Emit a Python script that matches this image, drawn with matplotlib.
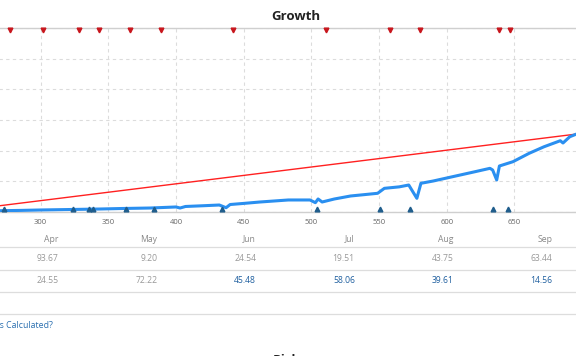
import matplotlib
matplotlib.use("Agg")
import matplotlib.pyplot as plt

plt.rcParams['font.family'] = ['Open Sans', 'DejaVu Sans']

# growth curve (trade number vs balance units)
trade_x = [262, 270, 285, 300, 320, 344, 360, 381, 400, 403, 407, 420, 432, 437,
           440, 450, 462, 483, 499, 503, 505, 508, 517, 529, 540, 549, 554, 565,
           572, 578, 581, 590, 599, 610, 621, 632, 634, 637, 639, 649, 661, 672,
           684, 686, 691, 696]
balance = [18, 21, 26, 33, 40, 49, 57, 65, 82, 65, 90, 102, 114, 70,
           122, 140, 163, 196, 196, 152, 212, 163, 212, 261, 285, 305, 386, 410,
           440, 223, 468, 505, 549, 603, 657, 712, 685, 522, 750, 820, 957, 1064,
           1162, 1125, 1227, 1271]

# linear trend
trend_x = [262, 696]
trend_y = [81, 1271]

# deposit / withdrawal markers
withdraw_x = [277, 302, 328, 343, 366, 389, 442, 511, 558, 580, 639, 647]
deposit_x = [273, 324, 336, 339, 363, 384, 434, 504, 551, 573, 634, 645]

xticks = [300, 350, 400, 450, 500, 550, 600, 650]

# monthly table
months = ['Apr', 'May', 'Jun', 'Jul', 'Aug', 'Sep']
row1 = ['93.67', '9.20', '24.54', '19.51', '43.75', '63.44']
row2 = ['24.55', '72.22', '45.48', '58.06', '39.61', '14.56']
row2_highlight = [False, False, True, True, True, True]

W, H = 576, 356
fig = plt.figure(figsize=(W / 100, H / 100), dpi=100)

# chart axes, left part cropped off like the screenshot
left_px, right_px, top_px, bot_px = -60, 578, 28, 212
ax = fig.add_axes([left_px / W, (H - bot_px) / H,
                   (right_px - left_px) / W, (bot_px - top_px) / H])
px_per_unit = 1.3531
ax.set_xlim(300 + (left_px - 40.7) / px_per_unit, 300 + (right_px - 40.7) / px_per_unit)
ax.set_ylim(0, 3000)

ax.plot(trend_x, trend_y, color='#ff2020', lw=1.0, zorder=3)
ax.plot(trade_x, balance, color='#2a8ff0', lw=2.2, zorder=4,
        solid_joinstyle='round')

tr = ax.get_xaxis_transform()
ax.plot(withdraw_x, [0.988] * len(withdraw_x), 'v', color='#c8161d',
        ms=3.4, transform=tr, clip_on=False, zorder=5)
ax.plot(deposit_x, [0.014] * len(deposit_x), '^', color='#1f5d8c',
        ms=3.4, transform=tr, clip_on=False, zorder=5)

ax.set_xticks(xticks)
ax.set_yticks(range(0, 3001, 500))
ax.set_yticklabels([])
ax.grid(True, color='#dcdcdc', ls=(0, (3, 3)), lw=0.8)
ax.tick_params(axis='x', length=0, pad=5, labelsize=5.5, labelcolor='#666666')
ax.tick_params(axis='y', length=0)
for s in ['left', 'right']:
    ax.spines[s].set_visible(False)
for s in ['top', 'bottom']:
    ax.spines[s].set_color('#cfcfcf')
    ax.spines[s].set_linewidth(1.0)

# overlay in pixel coordinates for the page text
ov = fig.add_axes([0, 0, 1, 1], facecolor='none')
ov.set_xlim(0, W)
ov.set_ylim(H, 0)
ov.axis('off')

ov.text(296, 16, 'Growth', ha='center', va='center', fontsize=9.5,
        fontweight='bold', color='#222222')

col_right = [58.7 + i * 98.7 for i in range(len(months))]
for i, m in enumerate(months):
    ov.text(col_right[i], 239, m, ha='right', va='center', fontsize=6.2, color='#888888')
    ov.text(col_right[i], 258.7, row1[i], ha='right', va='center', fontsize=6.2,
            color='#999999')
    ov.text(col_right[i], 280.7, row2[i], ha='right', va='center', fontsize=6.2,
            color='#1f5f9f' if row2_highlight[i] else '#999999')

for y in [247.3, 269.7, 292.3, 314.3]:
    ov.plot([0, W], [y, y], color='#dddddd', lw=0.9)

ov.text(53.3, 326, 'How Growth is Calculated?', ha='right', va='center',
        fontsize=6.3, color='#2a6fb0')
ov.text(290, 354, 'Risks', ha='center', va='top', fontsize=9.5,
        fontweight='bold', color='#222222')

fig.savefig('out.png', dpi=100)
